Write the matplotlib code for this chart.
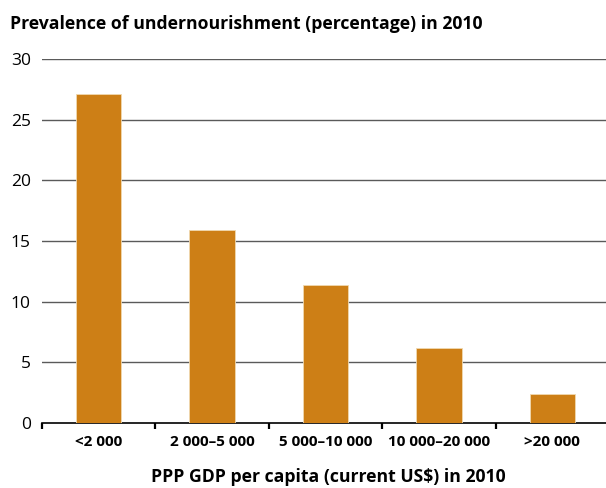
import matplotlib
matplotlib.use("Agg")
import matplotlib.pyplot as plt
import numpy as np

categories = ["<2 000", "2 000\u20135 000", "5 000\u201310 000", "10 000\u201320 000", ">20 000"]
values = [27.1, 15.9, 11.4, 6.2, 2.4]
yticks = [0, 5, 10, 15, 20, 25, 30]

plt.rcParams['font.family'] = ['Open Sans', 'DejaVu Sans']

fig = plt.figure(figsize=(6.06, 4.88), dpi=100)
ax = fig.add_axes([42/606, 65/488, 564/606, 364/488])

x = np.arange(len(categories)) + 0.5
ax.bar(x, values, width=0.40, color="#CD7F16", edgecolor="#F0D9B0", linewidth=0.6, zorder=3)

ax.set_xlim(0, 564/113.4)
ax.set_ylim(0, 30)
ax.set_yticks(yticks)
ax.set_yticklabels([str(t) for t in yticks], fontsize=12.5)
for t in yticks[1:]:
    ax.axhline(t, color="#5a5a5a", linewidth=1.0, zorder=1)

ax.set_xticks(np.arange(len(categories)))
ax.set_xticklabels([])
ax.set_xticks(x, minor=True)
ax.set_xticklabels(categories, minor=True, fontsize=11, fontweight="bold")
ax.tick_params(axis="x", which="major", direction="out", length=4, width=1.6, color="black")
ax.tick_params(axis="x", which="minor", length=0, pad=9)
ax.tick_params(axis="y", length=0, pad=8)

for s in ["top", "right", "left"]:
    ax.spines[s].set_visible(False)
ax.spines["bottom"].set_color("black")
ax.spines["bottom"].set_linewidth(1.2)

fig.text(10/606, 1 - 24/488, "Prevalence of undernourishment (percentage) in 2010",
         fontsize=12.7, fontweight="bold", va="center", ha="left")
fig.text(328/606, 1 - 477/488, "PPP GDP per capita (current US$) in 2010",
         fontsize=12.7, fontweight="bold", va="center", ha="center")

fig.savefig("out.png", dpi=100)
